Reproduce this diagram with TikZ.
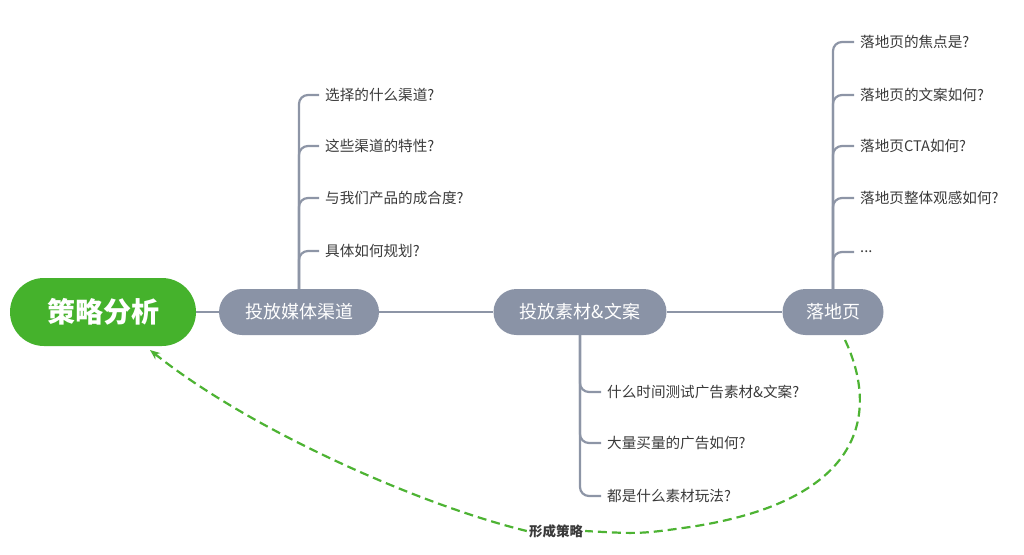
\documentclass[tikz,border=0pt]{standalone}
\usepackage{fontspec}
\setmainfont{Noto Sans CJK SC}
\usetikzlibrary{arrows.meta}
\definecolor{mgreen}{HTML}{45B22C}
\definecolor{ngray}{HTML}{8A93A6}
\definecolor{lgray}{HTML}{8D95A6}
\definecolor{tgray}{HTML}{3A3A3A}
\definecolor{dgreen}{HTML}{4DB333}
\tikzset{
  mainbox/.style={fill=mgreen, text=white, rounded corners=34pt, minimum width=186pt, minimum height=68pt, inner sep=0pt, font=\fontsize{28}{30}\selectfont\bfseries},
  topicbox/.style={fill=ngray, text=white, rounded corners=23pt, minimum height=46pt, inner sep=0pt, font=\fontsize{18}{20}\selectfont},
  leaf/.style={anchor=west, text=tgray, inner sep=0pt, font=\fontsize{14.6}{16}\selectfont},
  conn/.style={draw=lgray, line width=2.2pt},
  branch/.style={draw=lgray, line width=2.2pt, rounded corners=9pt},
  fb/.style={draw=dgreen, line width=2.2pt, dash pattern=on 9pt off 5pt},
  fblabel/.style={fill=white, text=tgray, inner sep=2pt, font=\fontsize{13.5}{15}\selectfont\bfseries}
}
\begin{document}
\begin{tikzpicture}[x=1pt,y=-1pt]
\useasboundingbox (0,0) rectangle (1024,554);
% main nodes
\node[mainbox] (main) at (103,312) {策略分析};
\node[topicbox, minimum width=160pt] (t1) at (299,312) {投放媒体渠道};
\node[topicbox, minimum width=173pt] (t2) at (580,312) {投放素材\&文案};
\node[topicbox, minimum width=101pt] (t3) at (833,312) {落地页};
\draw[conn] (main) -- (t1);
\draw[conn] (t1) -- (t2);
\draw[conn] (t2) -- (t3);
% branch 1 leaves
\node[leaf] (a1) at (325,95) {选择的什么渠道?};
\node[leaf] (a2) at (325,146) {这些渠道的特性?};
\node[leaf] (a3) at (325,198) {与我们产品的成合度?};
\node[leaf] (a4) at (325,251) {具体如何规划?};
\foreach \n in {a1,a2,a3,a4}{
  \draw[branch] (t1.north) -- (t1.north |- \n.west) -- ([xshift=-6pt]\n.west);
}
% branch 3 leaves
\node[leaf] (c1) at (860,42) {落地页的焦点是?};
\node[leaf] (c2) at (860,95) {落地页的文案如何?};
\node[leaf] (c3) at (860,146) {落地页CTA如何?};
\node[leaf] (c4) at (860,198) {落地页整体观感如何?};
\node[leaf] (c5) at (860,252) {...};
\foreach \n in {c1,c2,c3,c4,c5}{
  \draw[branch] (t3.north) -- (t3.north |- \n.west) -- ([xshift=-6pt]\n.west);
}
% branch 2 leaves
\node[leaf] (b1) at (607,392) {什么时间测试广告素材\&文案?};
\node[leaf] (b2) at (607,443) {大量买量的广告如何?};
\node[leaf] (b3) at (607,496) {都是什么素材玩法?};
\foreach \n in {b1,b2,b3}{
  \draw[branch] (t2.south) -- (t2.south |- \n.west) -- ([xshift=-6pt]\n.west);
}
% feedback loop
\coordinate (fs) at (845,340);
\coordinate (fe) at (150,350);
\node[fblabel] (fl) at (556,531) {形成策略};
\draw[fb] (fs) .. controls (878,410) and (868,500) .. (690,527) .. controls (640,534) .. (fl.east);
\draw[fb, -{Stealth[length=10pt,width=8pt]}] (fl.west) .. controls (420,505) and (250,430) .. (fe);
\end{tikzpicture}
\end{document}
